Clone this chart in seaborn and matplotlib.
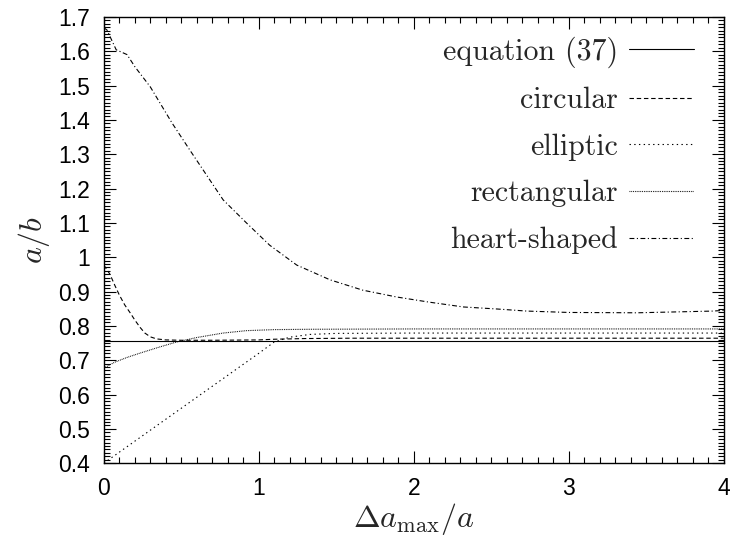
import matplotlib
matplotlib.use("Agg")
import matplotlib.pyplot as plt
from matplotlib.ticker import MultipleLocator, FixedLocator, FixedFormatter
import seaborn as sns

# ---- data ----
eq_x = [0.0, 4.0]
eq_y = [0.756, 0.756]

circ_x = [0, 0.04, 0.07, 0.1, 0.135, 0.17, 0.2, 0.235, 0.265, 0.3, 0.34, 0.4, 0.5, 0.7, 1.0, 1.1, 1.3, 1.6, 2.0, 3.0, 4.0]
circ_y = [0.977, 0.95, 0.919, 0.89, 0.861, 0.838, 0.817, 0.795, 0.779, 0.768, 0.762, 0.759, 0.758, 0.758, 0.759, 0.761, 0.763, 0.764, 0.764, 0.764, 0.764]

ell_x = [0, 0.25, 0.5, 0.75, 1.0, 1.1, 1.2, 1.33, 1.5, 2.0, 3.0, 4.0]
ell_y = [0.40, 0.48, 0.56, 0.64, 0.72, 0.753, 0.767, 0.775, 0.778, 0.779, 0.779, 0.779]

rect_x = [0, 0.07, 0.15, 0.23, 0.35, 0.47, 0.6, 0.77, 0.92, 1.1, 1.33, 2.0, 3.0, 4.0]
rect_y = [0.677, 0.694, 0.708, 0.72, 0.737, 0.753, 0.766, 0.779, 0.786, 0.789, 0.79, 0.791, 0.791, 0.791]

heart_x = [0, 0.02, 0.08, 0.15, 0.2, 0.3, 0.44, 0.555, 0.77, 0.92, 1.07, 1.245, 1.46, 1.67, 1.89, 2.1, 2.32, 2.54, 2.73, 3.0, 3.44, 3.93, 4.0]
heart_y = [1.668, 1.662, 1.604, 1.59, 1.555, 1.496, 1.391, 1.312, 1.167, 1.10, 1.035, 0.977, 0.934, 0.904, 0.884, 0.869, 0.855, 0.849, 0.843, 0.839, 0.838, 0.843, 0.845]

labels = ["equation (37)", "circular", "elliptic", "rectangular", "heart-shaped"]

xticks = [0, 1, 2, 3, 4]
xticklabels = ["0", "1", "2", "3", "4"]
yticks = [0.4, 0.5, 0.6, 0.7, 0.8, 0.9, 1.0, 1.1, 1.2, 1.3, 1.4, 1.5, 1.6, 1.7]
yticklabels = ["0.4", "0.5", "0.6", "0.7", "0.8", "0.9", "1", "1.1", "1.2", "1.3", "1.4", "1.5", "1.6", "1.7"]

# ---- style ----
sns.set_style("ticks")
plt.rcParams["font.family"] = ["Liberation Sans", "DejaVu Sans"]
plt.rcParams["mathtext.fontset"] = "cm"
plt.rcParams["lines.scale_dashes"] = False
plt.rcParams["axes.linewidth"] = 1.0

fig = plt.figure(figsize=(7.31, 5.43), dpi=100)
ax = fig.add_axes([0.142, 0.147, 0.848, 0.822])

lw = 0.8
styles = [
    (eq_x, eq_y, "-"),
    (circ_x, circ_y, (0, (3.2, 2.0))),
    (ell_x, ell_y, (0, (1.0, 2.4))),
    (rect_x, rect_y, (0, (0.6, 0.7))),
    (heart_x, heart_y, (0, (3.5, 1.8, 0.8, 1.8))),
]
for (xs, ys, ls), lab in zip(styles, labels):
    sns.lineplot(x=xs, y=ys, ax=ax, color="black", linewidth=lw, linestyle=ls,
                 label=lab, sort=False, estimator=None)

ax.set_xlim(0, 4)
ax.set_ylim(0.4, 1.7)
ax.xaxis.set_major_locator(FixedLocator(xticks))
ax.xaxis.set_major_formatter(FixedFormatter(xticklabels))
ax.yaxis.set_major_locator(FixedLocator(yticks))
ax.yaxis.set_major_formatter(FixedFormatter(yticklabels))
ax.xaxis.set_minor_locator(MultipleLocator(0.1))
ax.yaxis.set_minor_locator(MultipleLocator(0.01))

ax.tick_params(which="both", direction="in", top=True, right=True, width=0.8, colors="black")
ax.tick_params(which="major", length=8.5, pad=10, labelsize=16.5)
ax.tick_params(which="minor", length=4.5)
for s in ax.spines.values():
    s.set_visible(True)
    s.set_color("black")

ax.set_xlabel(r"$\Delta a_{\rm max}/a$", fontsize=23, labelpad=1)
ax.set_ylabel(r"$a/b$", fontsize=23, labelpad=4)

leg = ax.legend(loc="upper right", bbox_to_anchor=(0.984, 1.0), frameon=False, markerfirst=False,
                prop={"family": "cmr10", "size": 21.5}, handlelength=2.2,
                handletextpad=0.35, labelspacing=0.64, borderaxespad=0.25)

fig.savefig("out.png", dpi=100)
